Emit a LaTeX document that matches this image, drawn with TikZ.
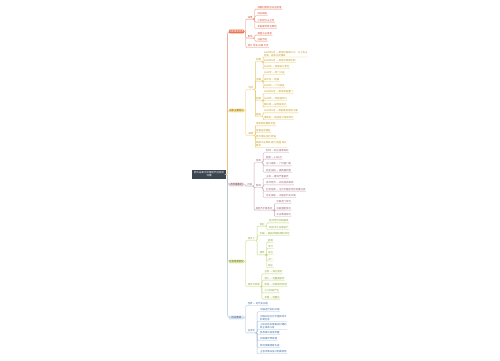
\documentclass[tikz,border=0pt]{standalone}
\usepackage{fontspec}
\newfontfamily\cjk{Noto Sans CJK SC}
\definecolor{rootc}{HTML}{3B4650}
\definecolor{ofill}{HTML}{E9704F}\definecolor{oln}{HTML}{E98A6E}\definecolor{otx}{HTML}{D0573A}
\definecolor{yfill}{HTML}{FBE39B}\definecolor{yln}{HTML}{EBC866}\definecolor{ytx}{HTML}{C49A1C}
\definecolor{pfill}{HTML}{E7D3DA}\definecolor{pln}{HTML}{C8A9B4}\definecolor{ptx}{HTML}{9A6377}
\definecolor{gfill}{HTML}{E3ECB0}\definecolor{gln}{HTML}{C3D67A}\definecolor{gtx}{HTML}{8BA42A}
\definecolor{bfill}{HTML}{D8E3F0}\definecolor{bln}{HTML}{A9BFD8}\definecolor{btx}{HTML}{3D6EA8}
\newcommand\lk[3]{\draw[ln,#1] (#2) -- ++(1.6,0) |- (#3.south west) -- (#3.south east);}
\tikzset{
  ft/.style={font=\cjk\fontsize{2.4}{2.9}\selectfont},
  lf/.style={ft, inner xsep=0.3pt, inner ysep=0.5pt, anchor=west, align=left},
  ol/.style={lf, text=otx}, yl/.style={lf, text=ytx}, pl/.style={lf, text=ptx},
  gl/.style={lf, text=gtx}, bl/.style={lf, text=btx},
  brn/.style={ft, minimum width=15pt, minimum height=3.6pt, inner sep=0pt, rounded corners=0.6pt},
  ln/.style={line width=0.35pt, rounded corners=1pt},
  tr/.style={line width=0.45pt, rounded corners=2pt, draw=#1},
}
\begin{document}
\begin{tikzpicture}[x=1pt,y=-1pt]
\useasboundingbox (0,0) rectangle (500,360);
\fill[white] (0,0) rectangle (500,360);
% root
\node[ft, fill=rootc, text=white, minimum width=34pt, minimum height=9pt, inner sep=0.5pt, align=center, font=\cjk\fontsize{2.5}{3}\selectfont] (root) at (209,174.5) {鸦片战争与中国近代社会的\\开端};
% branches
\node[brn, fill=ofill, text=white] (b1) at (236.5,31.5) {战争爆发背景};
\node[brn, fill=yfill, text=ytx!60!black] (b2) at (236.5,110.5) {战争主要经过};
\node[brn, fill=pfill, text=ptx!70!black] (b3) at (236.5,184.5) {不平等条约};
\node[brn, fill=gfill, text=gtx!60!black] (b4) at (236.5,261.5) {社会性质变化};
\node[brn, fill=bfill, text=btx!70!black] (b5) at (236.5,317.5) {历史影响};
\draw[tr=oln] (root.east) -- ++(1.5,0) |- (b1.west);
\draw[tr=yln] (root.east) -- ++(1.5,0) |- (b2.west);
\draw[tr=pln] (root.east) -- ++(1.5,0) |- (b3.west);
\draw[tr=gln] (root.east) -- ++(1.5,0) |- (b4.west);
\draw[tr=bln] (root.east) -- ++(1.5,0) |- (b5.west);
% ---------- branch 1
\node[ol] (s11) at (247.3,17.3) {背景};
\node[ol] (s12) at (247.3,36.3) {影响};
\node[ol] (l13) at (247.3,45.7) {鸦片 走私 白银 外流};
\node[ol] (l111) at (257,7.3) {清朝封建统治日益衰落};
\node[ol] (l112) at (257,14) {闭关锁国};
\node[ol] (l113) at (257,20.3) {小农经济占主导};
\node[ol] (l114) at (257,26.7) {军备废弛政治腐败};
\node[ol] (l121) at (257,33.3) {英国工业革命};
\node[ol] (l122) at (257,39.3) {开拓市场};
\foreach \c in {s11,s12,l13}{\lk{oln}{b1.east}{\c}}
\foreach \c in {l111,l112,l113,l114}{\lk{oln}{s11.south east}{\c}}
\foreach \c in {l121,l122}{\lk{oln}{s12.south east}{\c}}
% ---------- branch 2
\node[yl] (s21) at (248,87.7) {经过};
\node[yl] (s22) at (248,133.7) {原因};
\node[yl] (s211) at (255.7,60) {初期};
\node[yl] (s212) at (255.7,79.3) {中期};
\node[yl] (s213) at (255.7,98.7) {后期};
\node[yl] (s214) at (255.7,114.3) {结局};
\node[yl] (l2111) at (263.5,53.7) {1840年6月 — 英军封锁珠江口，北上攻占\\定海，战争正式爆发};
\node[yl] (l2112) at (263.5,60.7) {1840年8月 — 清廷派琦善议和};
\node[yl] (l2113) at (263.5,66.7) {1841年 — 琦善私订条约};
\node[yl] (l2121) at (263.5,73) {1841年 — 虎门之战};
\node[yl] (l2122) at (263.5,79.7) {关天培 — 殉国};
\node[yl] (l2123) at (263.5,86) {1841年 — 广州战役};
\node[yl] (l2131) at (263.5,92) {1841年8月 — 英军攻陷厦门};
\node[yl] (l2132) at (263.5,98.7) {1842年 — 攻陷吴淞口};
\node[yl] (l2133) at (263.5,105) {陈化成 — 战死吴淞口};
\node[yl] (l2141) at (263.5,111) {1842年8月 — 英舰驶抵南京江面};
\node[yl] (l2142) at (263.5,117.7) {清政府 — 被迫签订南京条约};
\node[yl] (l221) at (255.7,124) {清政府的腐败无能};
\node[yl] (l222) at (255.7,130.3) {军事技术落后};
\node[yl] (l223) at (255.7,136.7) {经济落后 国力衰弱};
\node[yl] (l224) at (255.7,144) {英国工业革命 国力 强盛 军队\\精良};
\foreach \c in {s21,s22}{\lk{yln}{b2.east}{\c}}
\foreach \c in {s211,s212,s213,s214}{\lk{yln}{s21.south east}{\c}}
\foreach \c in {l2111,l2112,l2113}{\lk{yln}{s211.south east}{\c}}
\foreach \c in {l2121,l2122,l2123}{\lk{yln}{s212.south east}{\c}}
\foreach \c in {l2131,l2132,l2133}{\lk{yln}{s213.south east}{\c}}
\foreach \c in {l2141,l2142}{\lk{yln}{s214.south east}{\c}}
\foreach \c in {l221,l222,l223,l224}{\lk{yln}{s22.south east}{\c}}
% ---------- branch 3
\node[pl] (s3) at (246.7,184.3) {内容};
\node[pl] (s31) at (255.7,160.7) {条款};
\node[pl] (s32) at (255.7,186) {影响};
\node[pl] (s33) at (255,208.3) {其他不平等条约};
\node[pl] (l311) at (265.7,151) {割地 — 割让香港岛屿};
\node[pl] (l312) at (265.7,157.3) {赔款 — 2100万};
\node[pl] (l313) at (265.7,164) {五口通商 — 广州厦门等};
\node[pl] (l314) at (265.7,170.3) {协定关税 — 需英国同意};
\node[pl] (l321) at (265.7,176.7) {主权 — 遭到严重破坏};
\node[pl] (l322) at (265.7,183) {自然经济 — 开始逐步解体};
\node[pl] (l323) at (265.7,189.3) {社会性质 — 沦为半殖民地半封建社会};
\node[pl] (l324) at (265.7,195.7) {历史进程 — 中国近代史开端};
\node[pl] (l331) at (276,202) {中英虎门条约};
\node[pl] (l332) at (276,208.3) {中美望厦条约};
\node[pl] (l333) at (276,214.7) {中法黄埔条约};
\lk{pln}{b3.east}{s3}
\foreach \c in {s31,s32,s33}{\lk{pln}{s3.south east}{\c}}
\foreach \c in {l311,l312,l313,l314}{\lk{pln}{s31.south east}{\c}}
\foreach \c in {l321,l322,l323,l324}{\lk{pln}{s32.south east}{\c}}
\foreach \c in {l331,l332,l333}{\lk{pln}{s33.south east}{\c}}
% ---------- branch 4
\node[gl] (s4) at (247.3,238.7) {经济上};
\node[gl] (s44) at (247.3,284.7) {政治与阶级};
\node[gl] (s41) at (259.3,224.3) {农村};
\node[gl] (l42) at (259.3,234) {外国 — 商品倾销和原料掠夺};
\node[gl] (s43) at (259.3,253) {城市};
\node[gl] (l411) at (268.7,221) {自然经济开始解体};
\node[gl] (l412) at (268.7,227.7) {农民手工业者破产};
\node[gl] (l431) at (267.7,240.3) {商埠};
\node[gl] (l432) at (267.7,246.7) {洋行};
\node[gl] (l433) at (267.7,253) {买办};
\node[gl] (l434) at (267.7,259.3) {工厂};
\node[gl] (l435) at (267.7,265.7) {钱庄};
\node[gl] (l441) at (264,272) {主权 — 独立受损};
\node[gl] (l442) at (264,278.3) {领土 — 完整被破坏};
\node[gl] (l443) at (264,284.7) {阶级 — 出现新的阶级};
\node[gl] (l444) at (264,291) {工人阶级产生};
\node[gl] (l445) at (264,297.3) {矛盾 — 双重化};
\foreach \c in {s4,s44}{\lk{gln}{b4.east}{\c}}
\foreach \c in {s41,l42,s43}{\lk{gln}{s4.south east}{\c}}
\foreach \c in {l411,l412}{\lk{gln}{s41.south east}{\c}}
\foreach \c in {l431,l432,l433,l434,l435}{\lk{gln}{s43.south east}{\c}}
\foreach \c in {l441,l442,l443,l444,l445}{\lk{gln}{s44.south east}{\c}}
% ---------- branch 5
\node[bl] (l51) at (247.3,303.7) {性质 — 近代史开端};
\node[bl] (s52) at (247.3,331) {总评价};
\node[bl] (l521) at (259.7,310) {中国近代史的开端};
\node[bl] (l522) at (259.7,318) {中国开始沦为半殖民地半\\封建社会};
\node[bl] (l523) at (259.7,326) {人民开始反侵略反封建的\\民主革命斗争};
\node[bl] (l524) at (259.7,332.7) {民族意识逐渐觉醒};
\node[bl] (l525) at (259.7,339) {开眼看世界思潮};
\node[bl] (l526) at (259.7,345.7) {林则徐魏源等先驱};
\node[bl] (l527) at (259.7,352) {主张师夷长技以制夷思想};
\foreach \c in {l51,s52}{\lk{bln}{b5.east}{\c}}
\foreach \c in {l521,l522,l523,l524,l525,l526,l527}{\lk{bln}{s52.south east}{\c}}
\end{tikzpicture}
\end{document}
